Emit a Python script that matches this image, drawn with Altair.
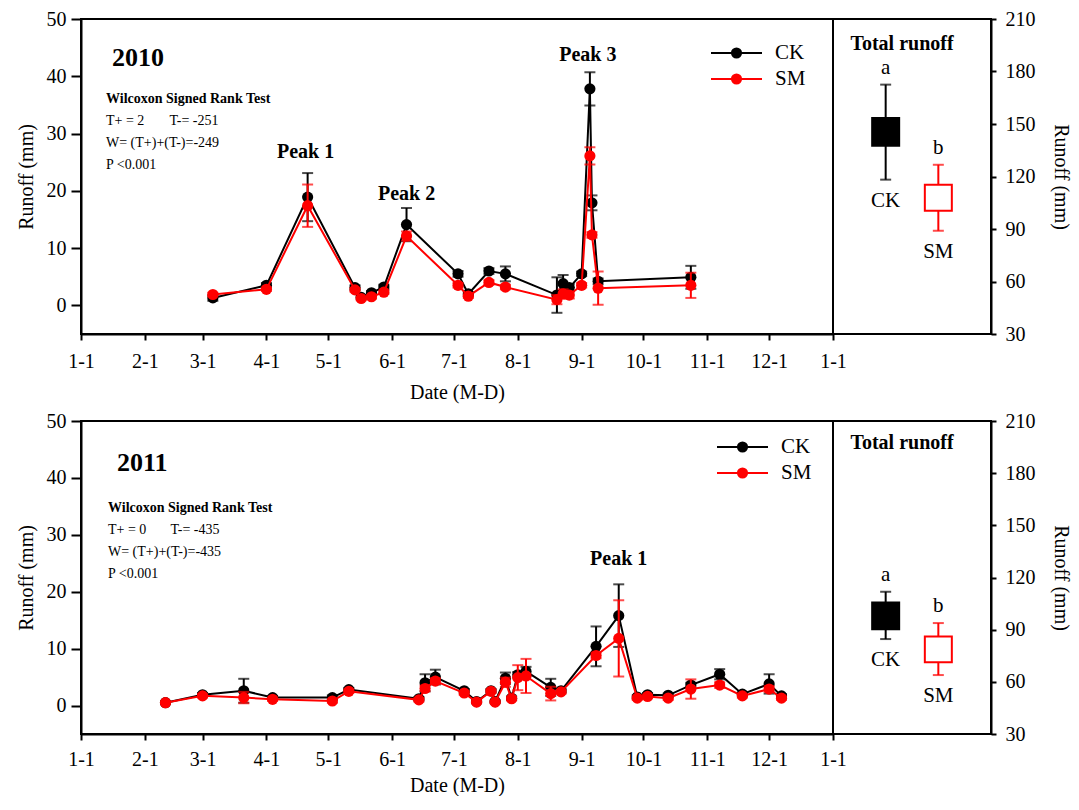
import altair as alt
import pandas as pd

FONT = "Liberation Serif"

# ---------------- data ----------------
dates_2010 = ["2010-03-06", "2010-04-01", "2010-04-21", "2010-05-14", "2010-05-17", "2010-05-22",
              "2010-05-28", "2010-06-08", "2010-07-03", "2010-07-08", "2010-07-18", "2010-07-26",
              "2010-08-20", "2010-08-23", "2010-08-26", "2010-09-01", "2010-09-05", "2010-09-06",
              "2010-09-09", "2010-10-24"]
ck_2010 = [1.3, 3.5, 18.9, 3.1, 1.4, 2.2, 3.2, 14.1, 5.5, 2.0, 6.0, 5.5, 1.8, 3.8, 3.1, 5.5, 37.8, 17.9, 4.2, 4.9]
ck_err_2010 = [0.5, 0.4, 4.2, 0.4, 0.3, 0.3, 0.4, 2.9, 0.5, 0.3, 0.5, 1.3, 3.1, 1.5, 0.6, 0.4, 2.9, 1.3, 0.5, 2.0]
sm_2010 = [1.9, 2.8, 17.4, 2.7, 1.2, 1.5, 2.3, 12.1, 3.5, 1.6, 4.0, 3.2, 1.0, 2.0, 1.8, 3.5, 26.1, 12.3, 3.0, 3.5]
sm_err_2010 = [0.3, 0.3, 3.7, 0.3, 0.3, 0.3, 0.3, 0.8, 0.4, 0.3, 0.4, 0.4, 0.8, 0.8, 0.6, 0.4, 1.5, 0.5, 2.9, 2.2]

dates_2011 = ["2011-02-11", "2011-03-01", "2011-03-21", "2011-04-04", "2011-05-03", "2011-05-11",
              "2011-06-14", "2011-06-17", "2011-06-22", "2011-07-06", "2011-07-12", "2011-07-19",
              "2011-07-21", "2011-07-26", "2011-07-29", "2011-08-01", "2011-08-05", "2011-08-17",
              "2011-08-22", "2011-09-08", "2011-09-19", "2011-09-28", "2011-10-03", "2011-10-13",
              "2011-10-24", "2011-11-07", "2011-11-18", "2011-12-01", "2011-12-07"]
ck_2011 = [0.5, 1.9, 2.6, 1.4, 1.4, 2.8, 1.2, 4.0, 5.0, 2.6, 0.7, 2.6, 0.7, 4.8, 1.3, 5.4, 6.0, 3.2, 2.6,
           10.4, 15.8, 1.5, 1.9, 1.8, 3.6, 5.5, 2.0, 3.8, 1.7]
ck_err_2011 = [0.2, 0.3, 2.1, 0.3, 0.4, 0.3, 0.3, 1.5, 1.3, 0.3, 0.2, 0.3, 0.2, 1.0, 0.3, 0.5, 0.8, 1.5, 0.3,
               3.5, 5.5, 0.3, 0.3, 0.3, 0.4, 0.9, 0.3, 1.7, 0.3]
sm_2011 = [0.5, 1.7, 1.4, 1.1, 0.8, 2.5, 1.0, 3.0, 4.3, 2.2, 0.6, 2.5, 0.6, 4.1, 1.2, 4.9, 5.2, 2.1, 2.4,
           8.8, 11.8, 1.3, 1.6, 1.3, 2.9, 3.6, 1.7, 2.9, 1.3]
sm_err_2011 = [0.2, 0.3, 1.0, 0.3, 0.3, 0.3, 0.3, 0.5, 0.5, 0.3, 0.2, 0.3, 0.2, 0.8, 0.3, 2.2, 3.0, 1.2, 0.3,
               0.5, 6.7, 0.3, 0.3, 0.3, 1.7, 0.5, 0.3, 0.5, 0.3]

peak_labels_2010 = ["Peak 1", "Peak 2", "Peak 3"]
peak_dates_2010 = ["2010-04-20", "2010-06-08", "2010-09-04"]
peak_y_2010 = [26.7, 19.5, 43.7]
peak_labels_2011 = ["Peak 1"]
peak_dates_2011 = ["2011-09-19"]
peak_y_2011 = [25.7]

groups = ["CK", "SM"]
letters = ["a", "b"]
box_lo_2010 = [137.6, 100.5]
box_hi_2010 = [153.4, 115.3]
whisk_lo_2010 = [118.2, 89.0]
whisk_hi_2010 = [172.5, 126.7]
box_lo_2011 = [90.3, 71.2]
box_hi_2011 = [105.6, 86.1]
whisk_lo_2011 = [84.6, 63.9]
whisk_hi_2011 = [111.8, 93.8]

stats_2010 = ["Wilcoxon Signed Rank Test", "T+ = 2", "T-= -251", "W= (T+)+(T-)=-249", "P <0.001"]
stats_2011 = ["Wilcoxon Signed Rank Test", "T+ = 0", "T-= -435", "W= (T+)+(T-)=-435", "P <0.001"]

COLORS = {"CK": "black", "SM": "red"}
LEFT_W, RIGHT_W = 752, 158


def left_panel(year, dates, ck, ck_err, sm, sm_err, stats, pk_lab, pk_dates, pk_y, leg, h, lpad, tpad):
    df = pd.concat([
        pd.DataFrame({"date": dates, "series": "CK", "value": ck, "err": ck_err}),
        pd.DataFrame({"date": dates, "series": "SM", "value": sm, "err": sm_err}),
    ], ignore_index=True)
    df["lo"] = df["value"] - df["err"]
    df["hi"] = df["value"] + df["err"]

    ticks = [alt.DateTime(year=year, month=m, date=1, utc=True) for m in range(1, 13)]
    ticks.append(alt.DateTime(year=year + 1, month=1, date=1, utc=True))
    x = alt.X("date:T",
              scale=alt.Scale(type="utc", domain=[ticks[0], ticks[-1]], nice=False),
              axis=alt.Axis(values=ticks, format="%-m-%-d", title="Date (M-D)", tickSize=6,
                            labelPadding=lpad, titlePadding=tpad, labelFlush=False, labelOverlap=False))
    y = alt.Y("value:Q", scale=alt.Scale(domain=[-5, 50], nice=False, zero=False),
              axis=alt.Axis(values=[0, 10, 20, 30, 40, 50], title="Runoff (mm)", tickSize=10,
                            labelPadding=5, titlePadding=10))

    layers = []
    base = alt.Chart(df)
    for s in ["CK", "SM"]:
        b = base.transform_filter(alt.datum.series == s)
        c = COLORS[s]
        layers.append(b.mark_rule(color=c, strokeWidth=2).encode(x=x, y=alt.Y("lo:Q"), y2="hi:Q"))
        layers.append(b.mark_tick(color=c, orient="horizontal", size=11, thickness=2).encode(x=x, y="lo:Q"))
        layers.append(b.mark_tick(color=c, orient="horizontal", size=11, thickness=2).encode(x=x, y="hi:Q"))
        layers.append(b.mark_line(color=c, strokeWidth=2).encode(x=x, y=y))
        layers.append(b.mark_circle(color=c, size=125, opacity=1).encode(x=x, y=y))

    # peak labels
    pk = pd.DataFrame({"date": pk_dates, "value": pk_y, "label": pk_lab})
    layers.append(alt.Chart(pk).mark_text(font=FONT, fontSize=20, fontWeight="bold", color="black",
                                          baseline="middle").encode(x=x, y=y, text="label:N"))

    # year label and test statistics
    yr = pd.DataFrame({"t": [str(year)]})
    layers.append(alt.Chart(yr).mark_text(font=FONT, fontSize=26, fontWeight="bold", align="left",
                                          baseline="alphabetic", color="black")
                  .encode(x=alt.value(leg["yx"]), y=alt.value(leg["yy"]), text="t:N"))
    st = leg["st"]
    pos = [(st[0], st[1], True), (st[0], st[1] + 22, False), (st[2], st[1] + 22, False),
           (st[0], st[1] + 44, False), (st[0], st[1] + 66, False)]
    for txt, (px, py, bold) in zip(stats, pos):
        layers.append(alt.Chart(pd.DataFrame({"t": [txt]})).mark_text(
            font=FONT, fontSize=14, fontWeight="bold" if bold else "normal", align="left",
            baseline="alphabetic", color="black").encode(x=alt.value(px), y=alt.value(py), text="t:N"))

    # legend
    for s, ly in zip(["CK", "SM"], leg["ly"]):
        ld = pd.DataFrame({"series": [s]})
        lc = alt.Chart(ld)
        layers.append(lc.mark_rule(color=COLORS[s], strokeWidth=2).encode(
            x=alt.value(leg["lx0"]), x2=alt.value(leg["lx0"] + 51), y=alt.value(ly)))
        layers.append(lc.mark_circle(color=COLORS[s], size=125, opacity=1).encode(
            x=alt.value(leg["lx0"] + 25.5), y=alt.value(ly)))
        layers.append(lc.mark_text(font=FONT, fontSize=21, align="left", baseline="middle",
                                   color="black").encode(
            x=alt.value(leg["lx0"] + 64), y=alt.value(ly), text="series:N"))

    return alt.layer(*layers).properties(width=LEFT_W, height=h)


def right_panel(blo, bhi, wlo, whi, title_y, h):
    tot = pd.DataFrame({"group": groups, "blo": blo, "bhi": bhi, "wlo": wlo, "whi": whi,
                        "letter": letters})
    xr = alt.X("group:N", scale=alt.Scale(type="point", domain=groups, padding=1.03), axis=None)
    yr = alt.Y("wlo:Q", scale=alt.Scale(domain=[30, 210], nice=False, zero=False),
               axis=alt.Axis(orient="right", values=[30, 60, 90, 120, 150, 180, 210],
                             title="Runoff (mm)", tickSize=5, labelPadding=9, titlePadding=15))
    stroke_scale = alt.Scale(domain=groups, range=["black", "red"])
    fill_scale = alt.Scale(domain=groups, range=["black", "white"])
    b = alt.Chart(tot)
    whisk = b.mark_rule(strokeWidth=2).encode(
        x=xr, y=yr, y2="whi:Q", color=alt.Color("group:N", scale=stroke_scale, legend=None))
    cap_lo = b.mark_tick(orient="horizontal", size=11, thickness=2).encode(
        x=xr, y=yr, color=alt.Color("group:N", scale=stroke_scale, legend=None))
    cap_hi = b.mark_tick(orient="horizontal", size=11, thickness=2).encode(
        x=xr, y="whi:Q", color=alt.Color("group:N", scale=stroke_scale, legend=None))
    box = b.mark_bar(size=27, strokeWidth=2).encode(
        x=xr, y="blo:Q", y2="bhi:Q",
        fill=alt.Fill("group:N", scale=fill_scale, legend=None),
        stroke=alt.Stroke("group:N", scale=stroke_scale, legend=None))
    let = b.mark_text(font=FONT, fontSize=21, baseline="middle", dy=-17, color="black").encode(
        x=xr, y="whi:Q", text="letter:N")
    names = b.mark_text(font=FONT, fontSize=21, baseline="middle", dy=21, color="black").encode(
        x=xr, y="wlo:Q", text="group:N")
    ttl = alt.Chart(pd.DataFrame({"t": ["Total runoff"]})).mark_text(
        font=FONT, fontSize=20, fontWeight="bold", baseline="middle", color="black").encode(
        x=alt.value(69), y=alt.value(title_y), text="t:N")
    return alt.layer(whisk, cap_lo, cap_hi, box, let, names, ttl).properties(width=RIGHT_W, height=h)


leg2010 = {"yx": 31, "yy": 47, "st": (25, 84, 88.5), "lx0": 630, "ly": (34, 60)}
leg2011 = {"yx": 36, "yy": 50, "st": (27, 91, 89.5), "lx0": 636, "ly": (26, 52)}

row1 = alt.hconcat(
    left_panel(2010, dates_2010, ck_2010, ck_err_2010, sm_2010, sm_err_2010, stats_2010,
               peak_labels_2010, peak_dates_2010, peak_y_2010, leg2010, 315, 11, 11),
    right_panel(box_lo_2010, box_hi_2010, whisk_lo_2010, whisk_hi_2010, 25, 315),
    spacing=0, bounds="flush").resolve_scale(x="independent", y="independent")
row2 = alt.hconcat(
    left_panel(2011, dates_2011, ck_2011, ck_err_2011, sm_2011, sm_err_2011, stats_2011,
               peak_labels_2011, peak_dates_2011, peak_y_2011, leg2011, 313, 9, 6),
    right_panel(box_lo_2011, box_hi_2011, whisk_lo_2011, whisk_hi_2011, 22, 313),
    spacing=0, bounds="flush").resolve_scale(x="independent", y="independent")

chart = alt.vconcat(row1, row2, spacing=7).resolve_scale(
    x="independent", y="independent"
).properties(
    padding={"left": 7, "top": 0, "right": 0, "bottom": 0}, background="white"
).configure_view(stroke="black", strokeWidth=2).configure_axis(
    grid=False, domainColor="black", domainWidth=2, tickColor="black", tickWidth=2,
    labelColor="black", titleColor="black", labelFont=FONT, titleFont=FONT,
    labelFontSize=20, titleFontSize=20, titleFontWeight="normal"
)

chart.save("out.html", embed_options={"renderer": "svg", "actions": False})
